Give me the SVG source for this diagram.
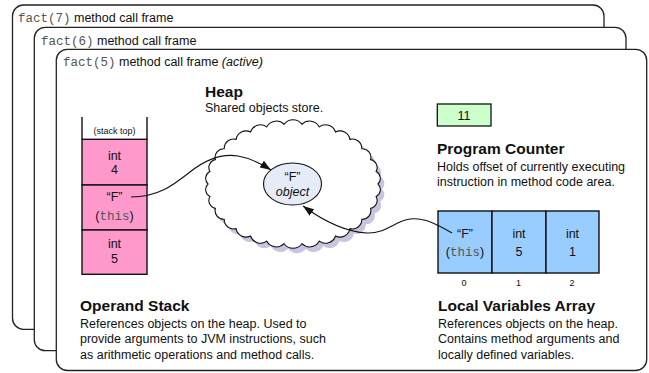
<svg xmlns="http://www.w3.org/2000/svg" width="649" height="373" viewBox="0 0 649 373">
<style>
.frame{fill:#fff;stroke:#222;stroke-width:1.3}
.t{font-family:"Liberation Sans",Arial,sans-serif;font-size:12.5px;fill:#111}
.mono{font-family:"Liberation Mono","Courier New",monospace;fill:#555}
.title{font-family:"Liberation Sans",Arial,sans-serif;font-size:15.5px;font-weight:bold;fill:#111}
.small{font-family:"Liberation Sans",Arial,sans-serif;font-size:9px;fill:#111}
.c{text-anchor:middle}
.cell{stroke:#111;stroke-width:1.4}
.conn{fill:none;stroke:#111;stroke-width:1.1}
</style>
<defs>
<marker id="ah" markerUnits="userSpaceOnUse" markerWidth="11" markerHeight="8" refX="11" refY="4" orient="auto">
<path d="M0,0 L11,4 L0,8 z" fill="#111"/>
</marker>
<path id="cloud" d="M378,184 A7.8,7.8 0 0 1 376.1,196.5 A8.1,8.1 0 0 1 370.6,208.4 A8.7,8.7 0 0 1 361.8,219.3 A9.4,9.4 0 0 1 349.9,228.6 A10,10 0 0 1 335.5,236 A10.5,10.5 0 0 1 319.3,241.1 A10.9,10.9 0 0 1 301.9,243.7 A11,11 0 0 1 284.1,243.7 A10.9,10.9 0 0 1 266.7,241.1 A10.5,10.5 0 0 1 250.5,236 A10,10 0 0 1 236.1,228.6 A9.4,9.4 0 0 1 224.2,219.3 A8.7,8.7 0 0 1 215.4,208.4 A8.1,8.1 0 0 1 209.9,196.5 A7.8,7.8 0 0 1 208,184 A7.8,7.8 0 0 1 209.9,171.5 A8.1,8.1 0 0 1 215.4,159.6 A8.7,8.7 0 0 1 224.2,148.7 A9.4,9.4 0 0 1 236.1,139.4 A10,10 0 0 1 250.5,132 A10.5,10.5 0 0 1 266.7,126.9 A10.9,10.9 0 0 1 284.1,124.3 A11,11 0 0 1 301.9,124.3 A10.9,10.9 0 0 1 319.3,126.9 A10.5,10.5 0 0 1 335.5,132 A10,10 0 0 1 349.9,139.4 A9.4,9.4 0 0 1 361.8,148.7 A8.7,8.7 0 0 1 370.6,159.6 A8.1,8.1 0 0 1 376.1,171.5 A7.8,7.8 0 0 1 378,184 Z"/>
</defs>

<g id="frame7">
<rect class="frame" x="12.5" y="5" width="591.5" height="324.3" rx="11"/>
<text class="t" x="18" y="22"><tspan class="mono">fact(7)</tspan> method call frame</text>
</g>
<g id="frame6">
<rect class="frame" x="34.3" y="27.3" width="591.7" height="323.4" rx="11"/>
<text class="t" x="41" y="44.5"><tspan class="mono">fact(6)</tspan> method call frame</text>
</g>
<g id="frame5">
<rect class="frame" x="56.3" y="49.3" width="590.4" height="321.2" rx="11"/>
<text class="t" x="63" y="66"><tspan class="mono">fact(5)</tspan> method call frame <tspan font-style="italic">(active)</tspan></text>
</g>

<g id="heap">
<text class="title" x="205" y="97">Heap</text>
<text class="t" x="205" y="111.5">Shared objects store.</text>
<use href="#cloud" transform="translate(4,5)" fill="#cbc3df"/>
<use href="#cloud" fill="#fff" stroke="#111" stroke-width="1.1"/>
</g>

<g id="object">
<ellipse cx="292.5" cy="184" rx="29" ry="21" fill="#e6ecf7" stroke="#111" stroke-width="1.1"/>
<text class="t c" x="292.5" y="181">“F”</text>
<text class="t c" x="292.5" y="195.5" font-style="italic">object</text>
</g>

<g id="operand-stack">
<path d="M82,117 V139.3 M147,117 V139.3" stroke="#111" stroke-width="1.4" fill="none"/>
<text class="small c" x="114.5" y="134">(stack top)</text>
<rect class="cell" x="82" y="139.3" width="65" height="45.7" fill="#ff99cc"/>
<rect class="cell" x="82" y="185" width="65" height="45" fill="#ff99cc"/>
<rect class="cell" x="82" y="230" width="65" height="44.3" fill="#ff99cc"/>
<text class="t c" x="114.5" y="159.5">int</text>
<text class="t c" x="114.5" y="174">4</text>
<text class="t c" x="114.5" y="201">“F”</text>
<text class="t c" x="114.5" y="220">(<tspan class="mono">this</tspan>)</text>
<text class="t c" x="114.5" y="247.5">int</text>
<text class="t c" x="114.5" y="262.5">5</text>
<text class="title" x="80" y="311">Operand Stack</text>
<text class="t" x="80" y="327.5">References objects on the heap. Used to</text>
<text class="t" x="80" y="343">provide arguments to JVM instructions, such</text>
<text class="t" x="80" y="358.5">as arithmetic operations and method calls.</text>
</g>

<g id="program-counter">
<rect x="437.3" y="104" width="53.7" height="22" fill="#ccffcc" stroke="#111" stroke-width="1.3"/>
<text class="t c" x="464" y="119.5">11</text>
<text class="title" x="437" y="154">Program Counter</text>
<text class="t" x="437" y="171">Holds offset of currently executing</text>
<text class="t" x="437" y="186">instruction in method code area.</text>
</g>

<g id="local-variables">
<rect class="cell" x="438" y="211" width="54" height="62" fill="#99ccff"/>
<rect class="cell" x="492" y="211" width="54" height="62" fill="#99ccff"/>
<rect class="cell" x="546" y="211" width="53" height="62" fill="#99ccff"/>
<text class="t c" x="465" y="237.5">“F”</text>
<text class="t c" x="465" y="255.5">(<tspan class="mono">this</tspan>)</text>
<text class="t c" x="519" y="237.5">int</text>
<text class="t c" x="519" y="255.5">5</text>
<text class="t c" x="572.5" y="237.5">int</text>
<text class="t c" x="572.5" y="255.5">1</text>
<text class="small c" x="464" y="286">0</text>
<text class="small c" x="518.5" y="286">1</text>
<text class="small c" x="572" y="286">2</text>
<text class="title" x="438" y="311">Local Variables Array</text>
<text class="t" x="438" y="327.5">References objects on the heap.</text>
<text class="t" x="438" y="343">Contains method arguments and</text>
<text class="t" x="438" y="358.5">locally defined variables.</text>
</g>

<g id="connectors">
<path class="conn" marker-end="url(#ah)" d="M131,197 C158,197 172,186 190,172 C205,160 220,153 238,156 C250,158 260,163 271,170"/>
<path class="conn" marker-end="url(#ah)" d="M452,233 C440,226 425,217 410,219 C395,221 385,234 367,233 C345,232 325,222 303,206"/>
</g>
</svg>
